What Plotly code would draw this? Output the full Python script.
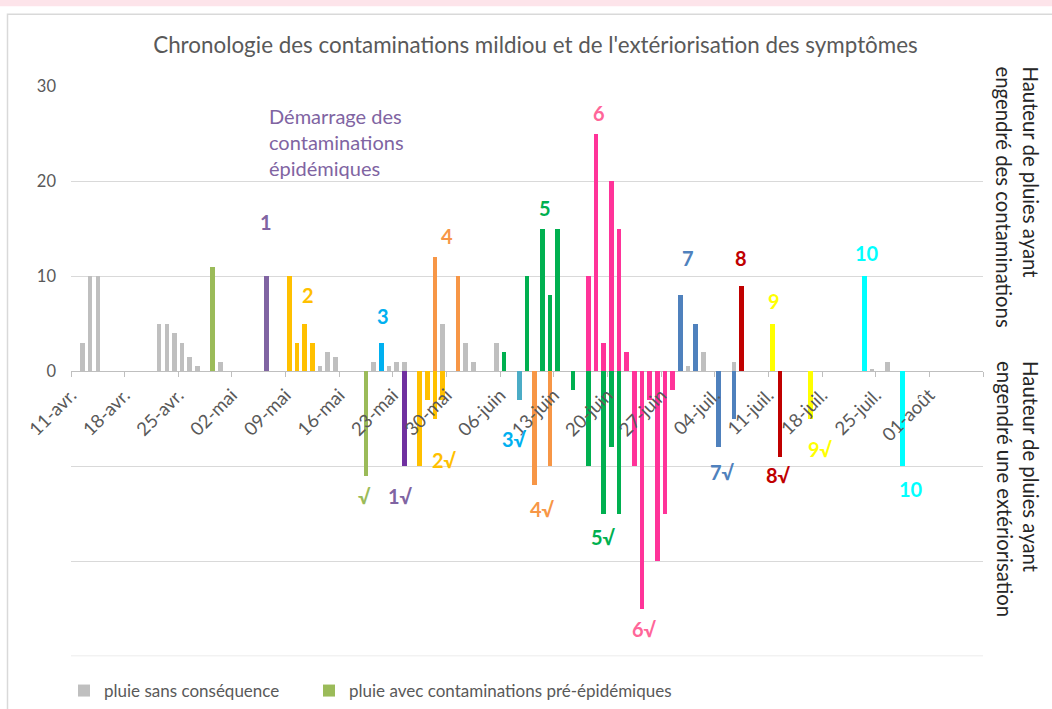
import plotly.graph_objects as go

FONT = "Lato, Open Sans, sans-serif"

# ---- data: rainfall (mm) per day ----
gray_dates = ["2023-04-12", "2023-04-13", "2023-04-14", "2023-04-22", "2023-04-23", "2023-04-24",
              "2023-04-25", "2023-04-26", "2023-04-27", "2023-04-30", "2023-05-13", "2023-05-14",
              "2023-05-15", "2023-05-20", "2023-05-22", "2023-05-23", "2023-05-24", "2023-05-29",
              "2023-06-01", "2023-06-02", "2023-06-05", "2023-06-30", "2023-07-02", "2023-07-06",
              "2023-07-24", "2023-07-26"]
gray_vals = [3, 10, 10, 5, 5, 4, 3, 1.5, 0.5, 1, 0.5, 2, 1.5, 1, 0.5, 1, 1, 5, 3, 1, 3, 0.5, 2, 1, 0.2, 1]

pre_dates = ["2023-04-29", "2023-05-19"]
pre_vals = [11, -11]

c1_dates = ["2023-05-06"]
c1_vals = [10]
e1_dates = ["2023-05-24"]
e1_vals = [-10]

c2_dates = ["2023-05-09", "2023-05-10", "2023-05-11", "2023-05-12",
            "2023-05-26", "2023-05-27", "2023-05-28", "2023-05-29"]
c2_vals = [10, 3, 5, 3, -10, -3, -5, -3]

c3_dates = ["2023-05-21"]
c3_vals = [3]
e3_dates = ["2023-06-08"]
e3_vals = [-3]

c4_dates = ["2023-05-28", "2023-05-31", "2023-06-10", "2023-06-12"]
c4_vals = [12, 10, -12, -10]

c5_dates = ["2023-06-06", "2023-06-09", "2023-06-11", "2023-06-12", "2023-06-13",
            "2023-06-15", "2023-06-17", "2023-06-19", "2023-06-20", "2023-06-21"]
c5_vals = [2, 10, 15, 8, 15, -2, -10, -15, -8, -15]

c6_dates = ["2023-06-17", "2023-06-18", "2023-06-19", "2023-06-20", "2023-06-21", "2023-06-22",
            "2023-06-23", "2023-06-24", "2023-06-25", "2023-06-26", "2023-06-27", "2023-06-28"]
c6_vals = [10, 25, 3, 20, 15, 2, -10, -25, -3, -20, -15, -2]

c7_dates = ["2023-06-29", "2023-07-01", "2023-07-04", "2023-07-06"]
c7_vals = [8, 5, -8, -5]

c8_dates = ["2023-07-07", "2023-07-12"]
c8_vals = [9, -9]

c9_dates = ["2023-07-11", "2023-07-16"]
c9_vals = [5, -5]

c10_dates = ["2023-07-23", "2023-07-28"]
c10_vals = [10, -10]

# ---- tick labels ----
tick_dates = ["2023-04-11", "2023-04-18", "2023-04-25", "2023-05-02", "2023-05-09", "2023-05-16",
              "2023-05-23", "2023-05-30", "2023-06-06", "2023-06-13", "2023-06-20", "2023-06-27",
              "2023-07-04", "2023-07-11", "2023-07-18", "2023-07-25", "2023-08-01", "2023-08-08"]
tick_text = ["11-avr.", "18-avr.", "25-avr.", "02-mai", "09-mai", "16-mai", "23-mai", "30-mai",
             "06-juin", "13-juin", "20-juin", "27-juin", "04-juil.", "11-juil.", "18-juil.",
             "25-juil.", "01-août", ""]
y_ticks = [-30, -20, -10, 0, 10, 20, 30]
y_text = ["", "", "", "0", "10", "20", "30"]
Y_MIN, Y_MAX = -30, 30

# ---- episode labels ----
lab_text = ["1", "2", "3", "4", "5", "6", "7", "8", "9", "10",
            "√", "1√", "2√", "3√", "4√", "5√", "6√", "7√", "8√", "9√", "10"]
lab_x = ["2023-05-06 12:00", "2023-05-11 22:30", "2023-05-21 17:30", "2023-05-30 02:00",
         "2023-06-11 21:00", "2023-06-18 22:00", "2023-06-30 13:00", "2023-07-07 11:00",
         "2023-07-11 19:00", "2023-07-23 22:00",
         "2023-05-19 06:00", "2023-05-23 23:00", "2023-05-29 17:00", "2023-06-07 20:00",
         "2023-06-11 12:00", "2023-06-19 11:00", "2023-06-24 19:00", "2023-07-05 00:00",
         "2023-07-12 07:00", "2023-07-17 19:00", "2023-07-29 16:00"]
lab_y = [15.7, 8.0, 5.8, 14.2, 17.2, 27.2, 11.9, 11.9, 7.4, 12.4,
         -13.1, -13.1, -9.4, -7.1, -14.5, -17.5, -27.1, -10.6, -10.9, -8.2, -12.4]
lab_color = ["#8064a2", "#ffc000", "#00b0f0", "#f79646", "#00b050", "#ff6699", "#4f81bd",
             "#c00000", "#ffff00", "#00ffff",
             "#9bbb59", "#8064a2", "#ffc000", "#00b0f0", "#f79646", "#00b050", "#ff6699",
             "#4f81bd", "#c00000", "#ffff00", "#00ffff"]

DAY = 86400000
BAR_W = 0.6 * DAY

series = [
    ("pluie sans conséquence", gray_dates, gray_vals, "#bfbfbf", "legend"),
    ("pluie avec contaminations pré-épidémiques", pre_dates, pre_vals, "#9bbb59", "legend2"),
    ("contamination 1", c1_dates, c1_vals, "#8064a2", None),
    ("extériorisation 1", e1_dates, e1_vals, "#7030a0", None),
    ("contamination 2", c2_dates, c2_vals, "#ffc000", None),
    ("contamination 3", c3_dates, c3_vals, "#00b0f0", None),
    ("extériorisation 3", e3_dates, e3_vals, "#4bacc6", None),
    ("contamination 4", c4_dates, c4_vals, "#f79646", None),
    ("contamination 5", c5_dates, c5_vals, "#00b050", None),
    ("contamination 6", c6_dates, c6_vals, "#ff3399", None),
    ("contamination 7", c7_dates, c7_vals, "#4f81bd", None),
    ("contamination 8", c8_dates, c8_vals, "#c00000", None),
    ("contamination 9", c9_dates, c9_vals, "#ffff00", None),
    ("contamination 10", c10_dates, c10_vals, "#00ffff", None),
]

# ---- page geometry (pixels) ----
W, H = 1052, 709
M_L, M_R, M_T, M_B = 71, 69, 86, 0
PLOT_BOTTOM_PX = 658
AREA_H = H - M_T - M_B
Y_DOM0 = (H - M_B - PLOT_BOTTOM_PX) / AREA_H


def py(p):
    """pixel row -> paper y"""
    return (H - M_B - p) / AREA_H


def px(p):
    """pixel column -> paper x"""
    return (p - M_L) / (W - M_L - M_R)


fig = go.Figure()
for name, xs, ys, col, leg in series:
    fig.add_trace(go.Bar(
        x=xs, y=ys, name=name, marker=dict(color=col, line=dict(width=0)),
        width=[BAR_W] * len(xs), xperiod=DAY, xperiodalignment="middle",
        showlegend=leg is not None, legend=leg or "legend", hoverinfo="x+y"))

for t, x, y, c in zip(lab_text, lab_x, lab_y, lab_color):
    fig.add_annotation(x=x, y=y, text="<b>" + t + "</b>", showarrow=False,
                       font=dict(family=FONT, size=20, color=c),
                       xanchor="center", yanchor="middle")

fig.add_annotation(x="2023-05-06 14:00", y=24.1, text="Démarrage des<br>contaminations<br>épidémiques",
                   showarrow=False, align="left", xanchor="left", yanchor="middle",
                   font=dict(family=FONT, size=20, color="#8064a2"))

fig.add_annotation(xref="paper", yref="paper", x=px(1018), y=py(64), textangle=90,
                   text="Hauteur de pluies ayant<br>engendré des contaminations",
                   showarrow=False, align="left", xanchor="center", yanchor="top",
                   font=dict(family=FONT, size=20.3, color="#262626"))
fig.add_annotation(xref="paper", yref="paper", x=px(1018), y=py(360), textangle=90,
                   text="Hauteur de pluies ayant<br>engendré une extériorisation",
                   showarrow=False, align="left", xanchor="center", yanchor="top",
                   font=dict(family=FONT, size=20.3, color="#262626"))

# bottom gridline (plotly drops the grid line on the lower edge)
fig.add_shape(type="line", xref="paper", yref="y", x0=0, x1=1, y0=Y_MIN, y1=Y_MIN,
              line=dict(color="#d9d9d9", width=1), layer="below")

# decorative frame
fig.add_shape(type="rect", xref="paper", yref="paper", x0=-0.2, x1=1.2, y0=py(6), y1=py(-10),
              fillcolor="#fde4ea", line=dict(width=0), layer="below")
fig.add_shape(type="rect", xref="paper", yref="paper", x0=px(7.5), x1=1.2, y0=py(760), y1=py(14),
              fillcolor="rgba(0,0,0,0)", line=dict(color="#d9d9d9", width=1.5), layer="below")

leg_style = dict(orientation="h", yref="paper", y=py(693), xanchor="left", yanchor="middle",
                 font=dict(family=FONT, size=17, color="#595959"), bgcolor="rgba(0,0,0,0)",
                 itemwidth=30)

fig.update_layout(
    width=W, height=H,
    margin=dict(l=M_L, r=M_R, t=M_T, b=M_B),
    paper_bgcolor="white", plot_bgcolor="white",
    barmode="overlay",
    bargap=0,
    font=dict(family=FONT, color="#595959"),
    title=dict(text="Chronologie des contaminations mildiou et de l'extériorisation des symptômes",
               x=0.509, xref="container", xanchor="center", y=1 - 45 / H, yref="container",
               yanchor="middle", font=dict(family=FONT, size=22.4, color="#595959")),
    xaxis=dict(type="date", range=["2023-04-11", "2023-08-08"], tickvals=tick_dates, ticktext=tick_text,
               tickangle=-45, anchor="free", position=Y_DOM0 + (1 - Y_DOM0) / 2, showgrid=False,
               showline=False, ticks="outside", ticklen=5,
               tickcolor="#bfbfbf", tickfont=dict(family=FONT, size=18.5, color="#595959"),
               zeroline=False),
    yaxis=dict(domain=[Y_DOM0, 1], range=[Y_MIN, Y_MAX], tickvals=y_ticks, ticktext=y_text, showgrid=True,
               gridcolor="#d9d9d9", gridwidth=1, zeroline=True, zerolinecolor="#bfbfbf",
               zerolinewidth=1, showline=False, ticks="",
               ticklabelstandoff=14, tickfont=dict(family=FONT, size=16.5, color="#595959")),
    legend=dict(x=px(64), **leg_style),
    legend2=dict(x=px(309), **leg_style),
    showlegend=True,
)

fig.write_html("out.html", config={"displayModeBar": False},
               post_script="document.body.style.margin='0';")
